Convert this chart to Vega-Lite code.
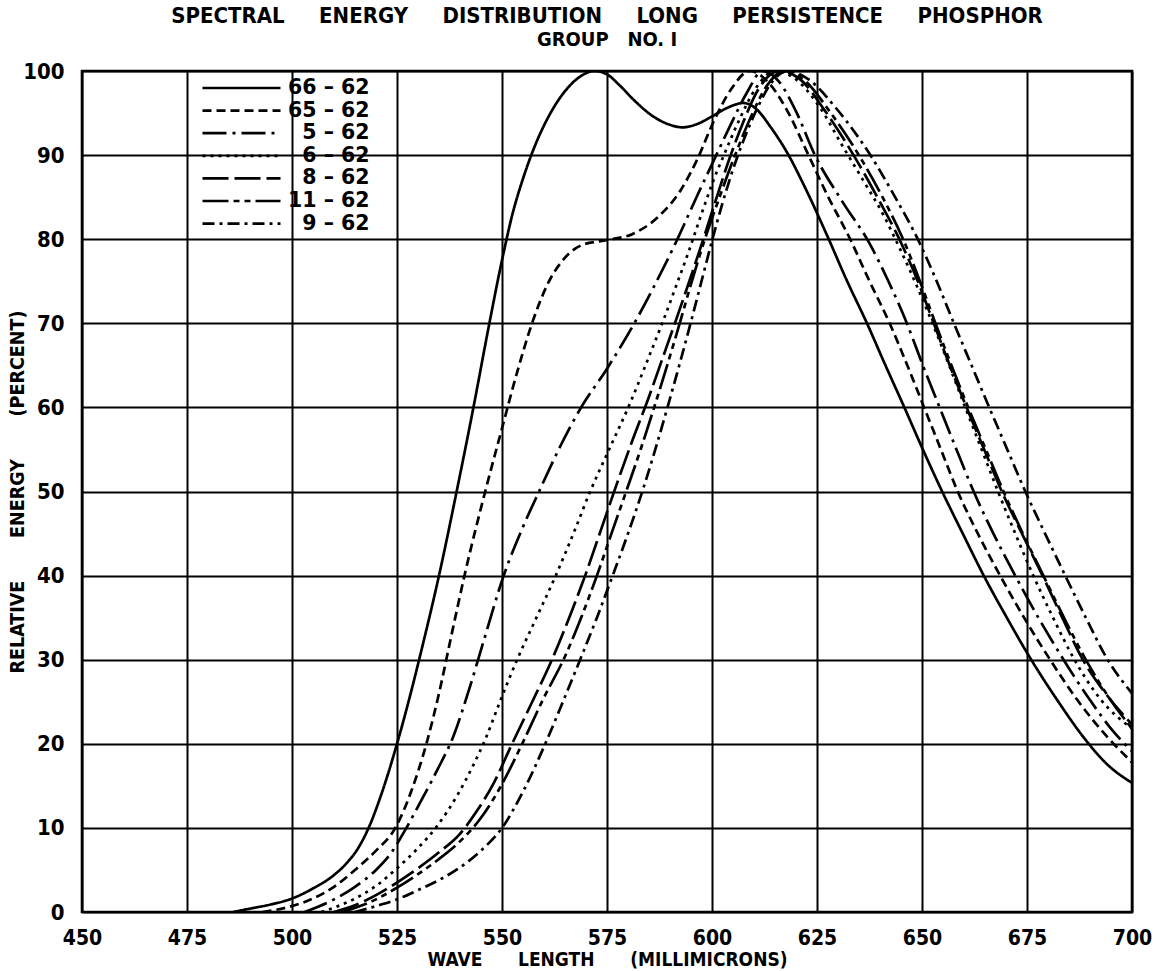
{
  "$schema": "https://vega.github.io/schema/vega-lite/v6.json",
  "width": 1050,
  "height": 841,
  "autosize": {"type": "none"},
  "padding": {"left": 82, "top": 71, "right": 26, "bottom": 59},
  "background": "white",
  "title": {
    "text": "SPECTRAL\u00a0\u00a0\u00a0\u00a0\u00a0ENERGY\u00a0\u00a0\u00a0\u00a0\u00a0DISTRIBUTION\u00a0\u00a0\u00a0\u00a0\u00a0LONG\u00a0\u00a0\u00a0\u00a0\u00a0PERSISTENCE\u00a0\u00a0\u00a0\u00a0\u00a0PHOSPHOR",
    "subtitle": "GROUP\u00a0\u00a0\u00a0NO.\u00a0I",
    "anchor": "middle",
    "font": "DejaVu Sans Condensed",
    "fontWeight": "bold",
    "fontSize": 22,
    "color": "black",
    "subtitleFont": "DejaVu Sans Condensed",
    "subtitleFontWeight": "bold",
    "subtitleFontSize": 20,
    "subtitleColor": "black",
    "subtitlePadding": 2.5,
    "offset": 9
  },
  "datasets": {
    "curves": [
      {"s": "66-62", "w": 486, "e": 0}, {"s": "66-62", "w": 490, "e": 0.4}, {"s": "66-62", "w": 495, "e": 0.9}, {"s": "66-62", "w": 500, "e": 1.6},
      {"s": "66-62", "w": 505, "e": 2.8}, {"s": "66-62", "w": 510, "e": 4.4}, {"s": "66-62", "w": 513, "e": 5.8}, {"s": "66-62", "w": 516, "e": 7.8},
      {"s": "66-62", "w": 518.5, "e": 10.3}, {"s": "66-62", "w": 521, "e": 13.6}, {"s": "66-62", "w": 525, "e": 20}, {"s": "66-62", "w": 528, "e": 25.5},
      {"s": "66-62", "w": 531, "e": 31.5}, {"s": "66-62", "w": 535, "e": 40}, {"s": "66-62", "w": 539.2, "e": 50}, {"s": "66-62", "w": 543.2, "e": 60},
      {"s": "66-62", "w": 546.8, "e": 69.5}, {"s": "66-62", "w": 550, "e": 77.5}, {"s": "66-62", "w": 552.5, "e": 83}, {"s": "66-62", "w": 555, "e": 87.2},
      {"s": "66-62", "w": 558, "e": 91.3}, {"s": "66-62", "w": 561, "e": 94.5}, {"s": "66-62", "w": 565, "e": 97.6}, {"s": "66-62", "w": 568.5, "e": 99.3},
      {"s": "66-62", "w": 572, "e": 100}, {"s": "66-62", "w": 575, "e": 99.6}, {"s": "66-62", "w": 578, "e": 98.3}, {"s": "66-62", "w": 581.5, "e": 96.5},
      {"s": "66-62", "w": 586, "e": 94.6}, {"s": "66-62", "w": 590, "e": 93.6}, {"s": "66-62", "w": 593, "e": 93.3}, {"s": "66-62", "w": 596.5, "e": 93.7},
      {"s": "66-62", "w": 600, "e": 94.6}, {"s": "66-62", "w": 604, "e": 95.7}, {"s": "66-62", "w": 607.5, "e": 96.2}, {"s": "66-62", "w": 610.5, "e": 95.5},
      {"s": "66-62", "w": 614, "e": 93.3}, {"s": "66-62", "w": 618, "e": 90.2}, {"s": "66-62", "w": 622, "e": 86.3}, {"s": "66-62", "w": 627.8, "e": 80},
      {"s": "66-62", "w": 632, "e": 75.2}, {"s": "66-62", "w": 636.9, "e": 70}, {"s": "66-62", "w": 641.3, "e": 65}, {"s": "66-62", "w": 645.8, "e": 60},
      {"s": "66-62", "w": 650.2, "e": 55}, {"s": "66-62", "w": 654.8, "e": 50}, {"s": "66-62", "w": 659.7, "e": 45}, {"s": "66-62", "w": 664.7, "e": 40},
      {"s": "66-62", "w": 670.2, "e": 35}, {"s": "66-62", "w": 676, "e": 30}, {"s": "66-62", "w": 682.2, "e": 25.2}, {"s": "66-62", "w": 688.9, "e": 20.5},
      {"s": "66-62", "w": 694, "e": 17.6}, {"s": "66-62", "w": 700, "e": 15.35},

      {"s": "65-62", "w": 493, "e": 0}, {"s": "65-62", "w": 500, "e": 0.7}, {"s": "65-62", "w": 505, "e": 1.6}, {"s": "65-62", "w": 510, "e": 3},
      {"s": "65-62", "w": 515, "e": 5}, {"s": "65-62", "w": 520, "e": 7.3}, {"s": "65-62", "w": 524.6, "e": 10}, {"s": "65-62", "w": 528.5, "e": 14.5},
      {"s": "65-62", "w": 532, "e": 20}, {"s": "65-62", "w": 535, "e": 26}, {"s": "65-62", "w": 538, "e": 33}, {"s": "65-62", "w": 541.3, "e": 40.5},
      {"s": "65-62", "w": 546, "e": 50}, {"s": "65-62", "w": 550, "e": 57.5}, {"s": "65-62", "w": 553.5, "e": 64}, {"s": "65-62", "w": 557.5, "e": 70.5},
      {"s": "65-62", "w": 561, "e": 74.8}, {"s": "65-62", "w": 565, "e": 77.8}, {"s": "65-62", "w": 569, "e": 79.3}, {"s": "65-62", "w": 575, "e": 79.9},
      {"s": "65-62", "w": 581, "e": 80.6}, {"s": "65-62", "w": 587.5, "e": 82.8}, {"s": "65-62", "w": 592.5, "e": 85.8}, {"s": "65-62", "w": 596.5, "e": 89.5},
      {"s": "65-62", "w": 600.4, "e": 94}, {"s": "65-62", "w": 604.5, "e": 97.8}, {"s": "65-62", "w": 609, "e": 100}, {"s": "65-62", "w": 613.5, "e": 98.6},
      {"s": "65-62", "w": 618, "e": 95.2}, {"s": "65-62", "w": 622.5, "e": 90.5}, {"s": "65-62", "w": 627.5, "e": 85.2}, {"s": "65-62", "w": 632.9, "e": 80},
      {"s": "65-62", "w": 637.5, "e": 75}, {"s": "65-62", "w": 642.3, "e": 70}, {"s": "65-62", "w": 646.5, "e": 65}, {"s": "65-62", "w": 650.5, "e": 60},
      {"s": "65-62", "w": 654.5, "e": 55}, {"s": "65-62", "w": 658.5, "e": 50}, {"s": "65-62", "w": 663.3, "e": 45}, {"s": "65-62", "w": 668.6, "e": 40},
      {"s": "65-62", "w": 674.3, "e": 35}, {"s": "65-62", "w": 680.5, "e": 30}, {"s": "65-62", "w": 687, "e": 25.2}, {"s": "65-62", "w": 693.8, "e": 21},
      {"s": "65-62", "w": 700, "e": 17.8},

      {"s": "5-62", "w": 503, "e": 0}, {"s": "5-62", "w": 510, "e": 1.5}, {"s": "5-62", "w": 515, "e": 3}, {"s": "5-62", "w": 520, "e": 5},
      {"s": "5-62", "w": 524, "e": 7.3}, {"s": "5-62", "w": 527, "e": 9.8}, {"s": "5-62", "w": 530.5, "e": 13}, {"s": "5-62", "w": 534.5, "e": 16.8},
      {"s": "5-62", "w": 538.5, "e": 21}, {"s": "5-62", "w": 542, "e": 26.2}, {"s": "5-62", "w": 545.5, "e": 32}, {"s": "5-62", "w": 550.4, "e": 40},
      {"s": "5-62", "w": 555, "e": 45.8}, {"s": "5-62", "w": 559.1, "e": 50.3}, {"s": "5-62", "w": 564, "e": 55.5}, {"s": "5-62", "w": 568.6, "e": 59.8},
      {"s": "5-62", "w": 575, "e": 64.6}, {"s": "5-62", "w": 581.5, "e": 70}, {"s": "5-62", "w": 586, "e": 74.2}, {"s": "5-62", "w": 591, "e": 79.2},
      {"s": "5-62", "w": 596.5, "e": 85.2}, {"s": "5-62", "w": 601.3, "e": 90.3}, {"s": "5-62", "w": 605, "e": 94.2}, {"s": "5-62", "w": 608.5, "e": 97.6},
      {"s": "5-62", "w": 612, "e": 100}, {"s": "5-62", "w": 616, "e": 98.7}, {"s": "5-62", "w": 620, "e": 95.2}, {"s": "5-62", "w": 624.5, "e": 90},
      {"s": "5-62", "w": 631, "e": 84.5}, {"s": "5-62", "w": 637.5, "e": 79.5}, {"s": "5-62", "w": 642, "e": 75}, {"s": "5-62", "w": 646.4, "e": 70},
      {"s": "5-62", "w": 650.2, "e": 65}, {"s": "5-62", "w": 654.2, "e": 60}, {"s": "5-62", "w": 658.2, "e": 55}, {"s": "5-62", "w": 662.3, "e": 50},
      {"s": "5-62", "w": 667, "e": 45}, {"s": "5-62", "w": 672.2, "e": 40}, {"s": "5-62", "w": 677.7, "e": 35}, {"s": "5-62", "w": 683.7, "e": 30},
      {"s": "5-62", "w": 690, "e": 25.2}, {"s": "5-62", "w": 695.5, "e": 21.5}, {"s": "5-62", "w": 700, "e": 19.1},

      {"s": "6-62", "w": 507, "e": 0}, {"s": "6-62", "w": 515, "e": 1.6}, {"s": "6-62", "w": 520, "e": 3.1}, {"s": "6-62", "w": 525, "e": 5.2},
      {"s": "6-62", "w": 530, "e": 7.6}, {"s": "6-62", "w": 534.5, "e": 10.2}, {"s": "6-62", "w": 539.5, "e": 14}, {"s": "6-62", "w": 543.2, "e": 17.5},
      {"s": "6-62", "w": 546, "e": 20.5}, {"s": "6-62", "w": 549.5, "e": 25}, {"s": "6-62", "w": 553.6, "e": 30}, {"s": "6-62", "w": 558.2, "e": 35},
      {"s": "6-62", "w": 562.8, "e": 40}, {"s": "6-62", "w": 567, "e": 45}, {"s": "6-62", "w": 571, "e": 50}, {"s": "6-62", "w": 575.5, "e": 55},
      {"s": "6-62", "w": 580.5, "e": 60.5}, {"s": "6-62", "w": 584.8, "e": 65.8}, {"s": "6-62", "w": 588.3, "e": 70.2}, {"s": "6-62", "w": 591.5, "e": 74.5},
      {"s": "6-62", "w": 594.5, "e": 78.6}, {"s": "6-62", "w": 597.5, "e": 83}, {"s": "6-62", "w": 600.2, "e": 86.8}, {"s": "6-62", "w": 603, "e": 90.2},
      {"s": "6-62", "w": 606.5, "e": 94.2}, {"s": "6-62", "w": 610.5, "e": 98}, {"s": "6-62", "w": 615, "e": 100}, {"s": "6-62", "w": 620, "e": 99},
      {"s": "6-62", "w": 625.5, "e": 95.8}, {"s": "6-62", "w": 631.3, "e": 90.9}, {"s": "6-62", "w": 636, "e": 87}, {"s": "6-62", "w": 640.9, "e": 82.8},
      {"s": "6-62", "w": 644.8, "e": 78.8}, {"s": "6-62", "w": 648.8, "e": 74.4}, {"s": "6-62", "w": 652.5, "e": 70}, {"s": "6-62", "w": 656.3, "e": 65.2},
      {"s": "6-62", "w": 660.3, "e": 60}, {"s": "6-62", "w": 664.2, "e": 55}, {"s": "6-62", "w": 668.1, "e": 50}, {"s": "6-62", "w": 672.2, "e": 45},
      {"s": "6-62", "w": 676.5, "e": 40}, {"s": "6-62", "w": 681.2, "e": 35}, {"s": "6-62", "w": 686.3, "e": 30}, {"s": "6-62", "w": 692.5, "e": 25.3},
      {"s": "6-62", "w": 700, "e": 21.8},

      {"s": "8-62", "w": 510, "e": 0}, {"s": "8-62", "w": 515, "e": 0.8}, {"s": "8-62", "w": 520, "e": 2}, {"s": "8-62", "w": 525, "e": 3.5},
      {"s": "8-62", "w": 530, "e": 5.2}, {"s": "8-62", "w": 535, "e": 7.1}, {"s": "8-62", "w": 540, "e": 9.3}, {"s": "8-62", "w": 544, "e": 12},
      {"s": "8-62", "w": 548, "e": 15.3}, {"s": "8-62", "w": 552.4, "e": 20}, {"s": "8-62", "w": 557.2, "e": 25}, {"s": "8-62", "w": 561.9, "e": 30},
      {"s": "8-62", "w": 566, "e": 35}, {"s": "8-62", "w": 569.8, "e": 40}, {"s": "8-62", "w": 573.6, "e": 45.5}, {"s": "8-62", "w": 577.4, "e": 51},
      {"s": "8-62", "w": 581, "e": 56}, {"s": "8-62", "w": 584.8, "e": 61}, {"s": "8-62", "w": 588.2, "e": 65.8}, {"s": "8-62", "w": 591.3, "e": 70.2},
      {"s": "8-62", "w": 594.6, "e": 75}, {"s": "8-62", "w": 597.8, "e": 79.8}, {"s": "8-62", "w": 601, "e": 84.8}, {"s": "8-62", "w": 604.1, "e": 89.5},
      {"s": "8-62", "w": 607.5, "e": 94}, {"s": "8-62", "w": 611, "e": 97.8}, {"s": "8-62", "w": 616, "e": 100}, {"s": "8-62", "w": 621, "e": 99},
      {"s": "8-62", "w": 627, "e": 95.2}, {"s": "8-62", "w": 633.7, "e": 90}, {"s": "8-62", "w": 639.8, "e": 84.6}, {"s": "8-62", "w": 645, "e": 79.6},
      {"s": "8-62", "w": 649, "e": 75}, {"s": "8-62", "w": 652.8, "e": 70}, {"s": "8-62", "w": 656.6, "e": 65}, {"s": "8-62", "w": 660.6, "e": 60},
      {"s": "8-62", "w": 664.8, "e": 55}, {"s": "8-62", "w": 669, "e": 50}, {"s": "8-62", "w": 673.8, "e": 45}, {"s": "8-62", "w": 678.7, "e": 40},
      {"s": "8-62", "w": 683.4, "e": 35}, {"s": "8-62", "w": 688.3, "e": 30}, {"s": "8-62", "w": 694, "e": 25.8}, {"s": "8-62", "w": 700, "e": 22.3},

      {"s": "11-62", "w": 512, "e": 0}, {"s": "11-62", "w": 520, "e": 1.5}, {"s": "11-62", "w": 525, "e": 2.9}, {"s": "11-62", "w": 530, "e": 4.5},
      {"s": "11-62", "w": 535, "e": 6.3}, {"s": "11-62", "w": 540, "e": 8.4}, {"s": "11-62", "w": 545, "e": 11.2}, {"s": "11-62", "w": 550, "e": 15.2},
      {"s": "11-62", "w": 554.8, "e": 20}, {"s": "11-62", "w": 560, "e": 25.5}, {"s": "11-62", "w": 565.1, "e": 30.5}, {"s": "11-62", "w": 569, "e": 35.2},
      {"s": "11-62", "w": 572.6, "e": 40}, {"s": "11-62", "w": 576.2, "e": 45.2}, {"s": "11-62", "w": 579.7, "e": 50.2}, {"s": "11-62", "w": 583, "e": 55},
      {"s": "11-62", "w": 586.1, "e": 59.8}, {"s": "11-62", "w": 589.2, "e": 64.8}, {"s": "11-62", "w": 592.2, "e": 69.8}, {"s": "11-62", "w": 595.2, "e": 75},
      {"s": "11-62", "w": 598.3, "e": 80}, {"s": "11-62", "w": 601.8, "e": 85}, {"s": "11-62", "w": 605.5, "e": 90}, {"s": "11-62", "w": 609.5, "e": 94.8},
      {"s": "11-62", "w": 613, "e": 98.2}, {"s": "11-62", "w": 617, "e": 100}, {"s": "11-62", "w": 622, "e": 98.9}, {"s": "11-62", "w": 628, "e": 95.2},
      {"s": "11-62", "w": 635.2, "e": 89.8}, {"s": "11-62", "w": 640.6, "e": 85}, {"s": "11-62", "w": 645.5, "e": 80}, {"s": "11-62", "w": 649.5, "e": 75},
      {"s": "11-62", "w": 653.2, "e": 70}, {"s": "11-62", "w": 657, "e": 65}, {"s": "11-62", "w": 661, "e": 60}, {"s": "11-62", "w": 665.2, "e": 55},
      {"s": "11-62", "w": 669.4, "e": 50}, {"s": "11-62", "w": 674, "e": 45}, {"s": "11-62", "w": 678.9, "e": 40}, {"s": "11-62", "w": 683.8, "e": 35},
      {"s": "11-62", "w": 689, "e": 30}, {"s": "11-62", "w": 694.5, "e": 25.5}, {"s": "11-62", "w": 700, "e": 21.8},

      {"s": "9-62", "w": 515, "e": 0}, {"s": "9-62", "w": 520, "e": 0.7}, {"s": "9-62", "w": 525, "e": 1.5}, {"s": "9-62", "w": 530, "e": 2.6},
      {"s": "9-62", "w": 535, "e": 3.8}, {"s": "9-62", "w": 540, "e": 5.3}, {"s": "9-62", "w": 545, "e": 7.3}, {"s": "9-62", "w": 550, "e": 10},
      {"s": "9-62", "w": 555.2, "e": 14.5}, {"s": "9-62", "w": 560.3, "e": 20}, {"s": "9-62", "w": 564.5, "e": 25}, {"s": "9-62", "w": 568.6, "e": 30},
      {"s": "9-62", "w": 572.6, "e": 35}, {"s": "9-62", "w": 576.5, "e": 40.2}, {"s": "9-62", "w": 580, "e": 45}, {"s": "9-62", "w": 583.4, "e": 50},
      {"s": "9-62", "w": 586.5, "e": 55}, {"s": "9-62", "w": 589.4, "e": 60}, {"s": "9-62", "w": 592.2, "e": 65}, {"s": "9-62", "w": 594.9, "e": 70},
      {"s": "9-62", "w": 597.5, "e": 75}, {"s": "9-62", "w": 600, "e": 79.8}, {"s": "9-62", "w": 602.5, "e": 84.3}, {"s": "9-62", "w": 605, "e": 88.3},
      {"s": "9-62", "w": 607.7, "e": 92}, {"s": "9-62", "w": 611, "e": 95.8}, {"s": "9-62", "w": 614, "e": 98.5}, {"s": "9-62", "w": 618, "e": 100},
      {"s": "9-62", "w": 623, "e": 99}, {"s": "9-62", "w": 629.5, "e": 95.6}, {"s": "9-62", "w": 637.7, "e": 90}, {"s": "9-62", "w": 643.6, "e": 85},
      {"s": "9-62", "w": 649, "e": 80}, {"s": "9-62", "w": 653.5, "e": 75}, {"s": "9-62", "w": 657.6, "e": 70}, {"s": "9-62", "w": 661.8, "e": 65},
      {"s": "9-62", "w": 666, "e": 60}, {"s": "9-62", "w": 670.3, "e": 55}, {"s": "9-62", "w": 674.6, "e": 50}, {"s": "9-62", "w": 679.3, "e": 45},
      {"s": "9-62", "w": 684.1, "e": 40}, {"s": "9-62", "w": 689, "e": 35}, {"s": "9-62", "w": 694.2, "e": 30}, {"s": "9-62", "w": 700, "e": 26}
    ]
  },
  "data": {"name": "curves"},
  "mark": {"type": "line", "color": "black", "strokeWidth": 2.7, "interpolate": "monotone", "clip": true},
  "encoding": {
    "x": {
      "field": "w",
      "type": "quantitative",
      "scale": {"domain": [450, 700], "nice": false, "zero": false},
      "axis": {
        "values": [450, 475, 500, 525, 550, 575, 600, 625, 650, 675, 700],
        "title": "WAVE\u00a0\u00a0\u00a0\u00a0\u00a0\u00a0LENGTH\u00a0\u00a0\u00a0\u00a0\u00a0\u00a0(MILLIMICRONS)",
        "titleFontSize": 19,
        "titlePadding": 2,
        "labelFontSize": 21,
        "labelPadding": 15.5
      }
    },
    "y": {
      "field": "e",
      "type": "quantitative",
      "scale": {"domain": [0, 100], "nice": false},
      "axis": {
        "values": [0, 10, 20, 30, 40, 50, 60, 70, 80, 90, 100],
        "title": "RELATIVE\u00a0\u00a0\u00a0\u00a0\u00a0\u00a0\u00a0ENERGY\u00a0\u00a0\u00a0\u00a0\u00a0\u00a0\u00a0(PERCENT)",
        "titleFontSize": 19.5,
        "titlePadding": -5,
        "labelFontSize": 22,
        "labelPadding": 18
      }
    },
    "strokeDash": {
      "field": "s",
      "type": "nominal",
      "scale": {
        "domain": ["66-62", "65-62", "5-62", "6-62", "8-62", "11-62", "9-62"],
        "range": [[1, 0], [9, 5], [24, 6, 3, 6], [3, 5], [26, 6], [26, 5, 6, 5, 6, 5], [12, 5, 3, 5]]
      },
      "legend": {
        "orient": "none",
        "legendX": 119,
        "legendY": 7,
        "title": null,
        "symbolType": "stroke",
        "symbolSize": 6084,
        "symbolStrokeColor": "black",
        "symbolStrokeWidth": 2.7,
        "clipHeight": 20,
        "labelFont": "DejaVu Sans",
        "labelFontWeight": "bold",
        "labelFontSize": 20.5,
        "labelColor": "black",
        "labelOffset": 6,
        "rowPadding": 1.6,
        "padding": 0,
        "labelExpr": "{'66-62': '66 \u2013 62', '65-62': '65 \u2013 62', '5-62': '\u200b\u00a0\u00a05 \u2013 62', '6-62': '\u200b\u00a0\u00a06 \u2013 62', '8-62': '\u200b\u00a0\u00a08 \u2013 62', '11-62': '11 \u2013 62', '9-62': '\u200b\u00a0\u00a09 \u2013 62'}[datum.label]"
      }
    }
  },
  "config": {
    "view": {"stroke": "black", "strokeWidth": 2.6},
    "axis": {
      "grid": true,
      "gridColor": "black",
      "gridWidth": 2,
      "gridOpacity": 1,
      "domain": false,
      "ticks": false,
      "labelFont": "DejaVu Sans Condensed",
      "labelFontWeight": "bold",
      "labelColor": "black",
      "labelFlush": false,
      "labelOverlap": false,
      "titleFont": "DejaVu Sans Condensed",
      "titleFontWeight": "bold",
      "titleColor": "black"
    }
  }
}
